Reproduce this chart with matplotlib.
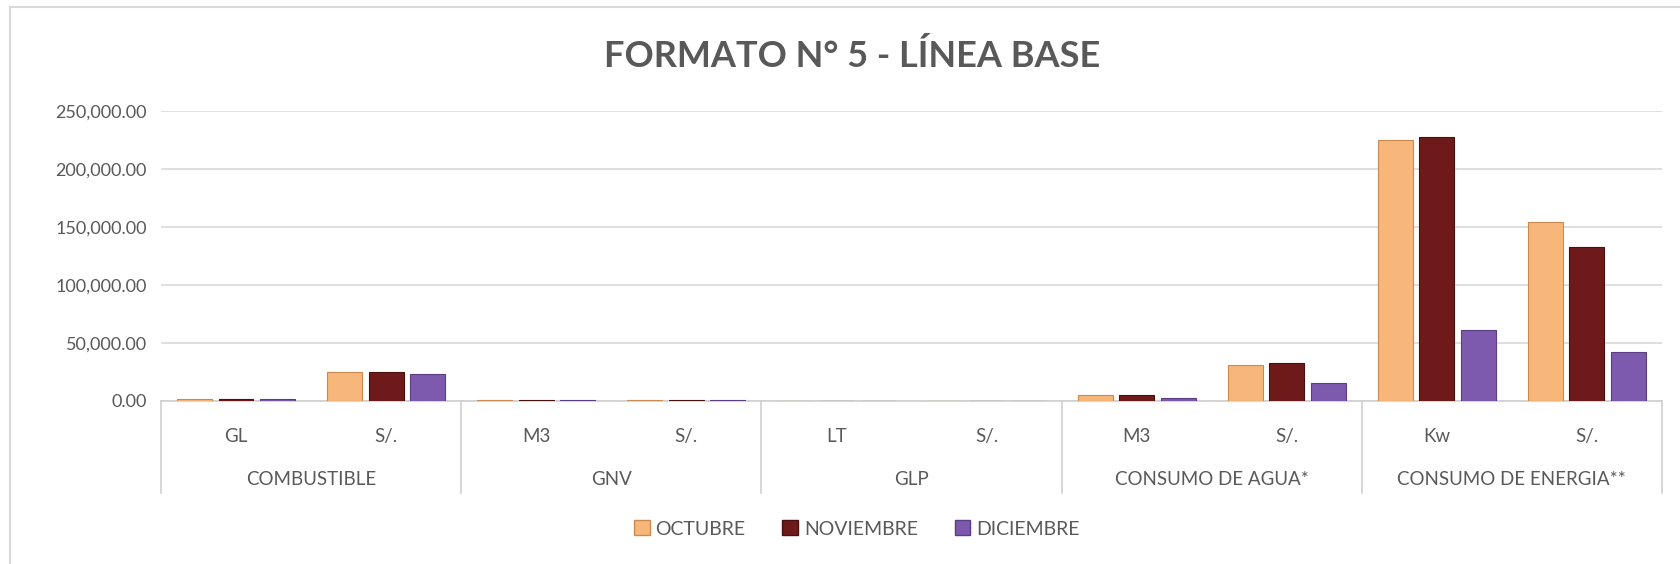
import numpy as np
import matplotlib
matplotlib.use("Agg")
import matplotlib.pyplot as plt
from matplotlib.patches import Rectangle, Patch

plt.rcParams['font.family'] = ['Lato', 'DejaVu Sans']

# Datos
grupos = ['COMBUSTIBLE', 'GNV', 'GLP', 'CONSUMO DE AGUA*', 'CONSUMO DE ENERGIA**']
unidades = ['GL', 'S/.', 'M3', 'S/.', 'LT', 'S/.', 'M3', 'S/.', 'Kw', 'S/.']
meses = ['OCTUBRE', 'NOVIEMBRE', 'DICIEMBRE']
octubre = [1200, 24600, 1000, 1000, 0, 0, 4600, 30900, 225300, 154300]
noviembre = [1200, 24600, 1000, 1000, 0, 0, 4700, 32400, 227700, 133200]
diciembre = [1100, 23400, 1000, 1000, 0, 0, 2300, 15600, 61000, 42200]
colores = ['#F8B77A', '#6E1A1A', '#7E5AAE']
bordes = ['#C98A52', '#4A0F0F', '#5A3D82']

gris = '#595959'
fig = plt.figure(figsize=(16.8, 5.64), dpi=100)
ax = fig.add_axes([0.0958, 0.2895, 0.8935, 0.513])

x = np.arange(len(unidades))
paso = 0.277
ancho = 0.233
for i, (vals, c, b) in enumerate(zip([octubre, noviembre, diciembre], colores, bordes)):
    ax.bar(x + (i - 1) * paso, vals, width=ancho, color=c, edgecolor=b, linewidth=0.8, zorder=3)

ax.set_xlim(-0.5, len(unidades) - 0.5)
ax.set_ylim(0, 250000)
ax.set_yticks(np.arange(0, 250001, 50000))
ax.yaxis.set_major_formatter(matplotlib.ticker.FuncFormatter(lambda v, p: f'{v:,.2f}'))
ax.tick_params(axis='y', length=0, pad=10, labelsize=13, labelcolor=gris)
ax.set_xticks([])
ax.grid(axis='y', color='#D9D9D9', linewidth=1.2, zorder=0)
for s in ['top', 'right', 'left']:
    ax.spines[s].set_visible(False)
ax.spines['bottom'].set_color('#D0D0D0')
ax.spines['bottom'].set_linewidth(1.2)

# Etiquetas jerárquicas del eje x
tr = ax.get_xaxis_transform()
for xi, u in zip(x, unidades):
    ax.text(xi, -0.122, u, transform=tr, ha='center', va='center', fontsize=13.5, color=gris)
for g, nombre in enumerate(grupos):
    ax.text(2 * g + 0.5, -0.271, nombre, transform=tr, ha='center', va='center', fontsize=13.5, color=gris)
for sep in np.arange(-0.5, len(unidades), 2):
    ax.plot([sep, sep], [0, -0.319], transform=tr, color='#D0D0D0', linewidth=1.2, clip_on=False)

fig.text(0.507, 0.9, 'FORMATO N° 5 - LÍNEA BASE', ha='center', va='center',
         fontsize=26, fontweight='bold', color=gris)

manejadores = [Patch(facecolor=c, edgecolor=b) for c, b in zip(colores, bordes)]
fig.legend(manejadores, meses, loc='center', bbox_to_anchor=(0.51, 0.062), ncol=3, frameon=False,
           fontsize=14, labelcolor=gris, handlelength=0.8, handleheight=0.8, handletextpad=0.3,
           columnspacing=1.9)

fig.patches.append(Rectangle((10 / 1680, -0.02), 1.1, 1 - 7 / 564 + 0.02, transform=fig.transFigure,
                             fill=False, edgecolor='#D9D9D9', linewidth=1.5))

fig.savefig('out.png', dpi=100)
